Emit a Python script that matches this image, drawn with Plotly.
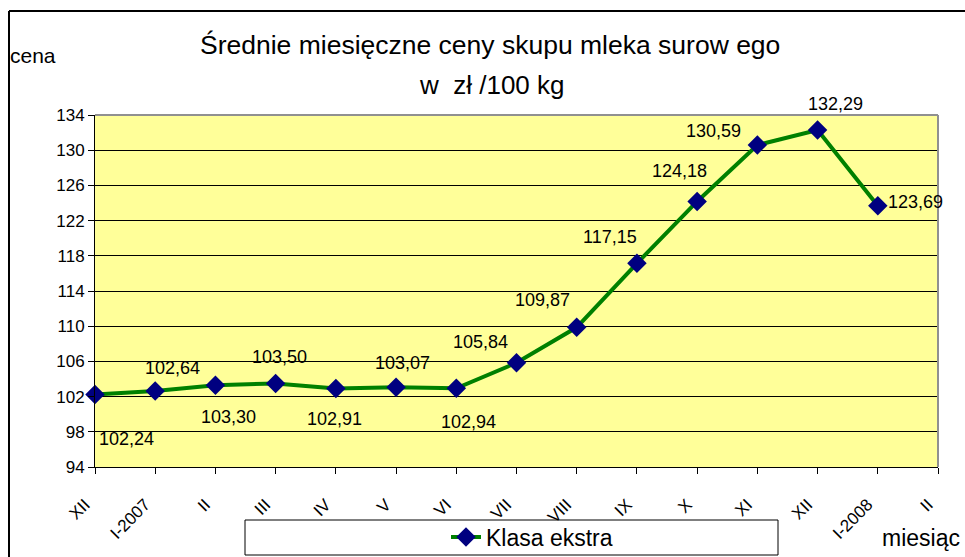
import plotly.graph_objects as go

months = ["XII", "I-2007", "II", "III", "IV", "V", "VI", "VII", "VIII", "IX", "X", "XI", "XII", "I-2008", "II"]
prices = [102.24, 102.64, 103.30, 103.50, 102.91, 103.07, 102.94, 105.84, 109.87, 117.15, 124.18, 130.59, 132.29, 123.69]
label_text = ["102,24", "102,64", "103,30", "103,50", "102,91", "103,07", "102,94", "105,84", "109,87", "117,15", "124,18", "130,59", "132,29", "123,69"]
y_ticks = [94, 98, 102, 106, 110, 114, 118, 122, 126, 130, 134]

# pixel offsets of data labels (style only)
lab_dx = [31, 17, 13, 4, -1, 6, 12, -36, -34, -27, -18, -44, 18, 38]
lab_dy = [-45, 23, -32, 26, -30, 24, -34, 21, 27, 26, 30, 14, 26, 4]

FONT = "Liberation Sans, Arial, sans-serif"

xs = list(range(len(prices)))

L, R, T, B = 95, 938, 115, 467
W, H = R - L, B - T
def px(xp):
    return (xp - L) / W
def py(yp):
    return (B - yp) / H

fig = go.Figure()
fig.add_trace(go.Scatter(
    x=xs, y=prices, mode="lines+markers", name="Klasa ekstra",
    line=dict(color="#008000", width=4),
    marker=dict(symbol="diamond", size=15, color="#000080"),
    cliponaxis=False,
))

annotations = []
for i, (v, t) in enumerate(zip(prices, label_text)):
    annotations.append(dict(x=i, y=v, xref="x", yref="y", text=t, showarrow=False,
                            xshift=lab_dx[i], yshift=lab_dy[i],
                            font=dict(family=FONT, size=18, color="black")))

def txt(x, y, s, size):
    return dict(x=px(x), y=py(y), xref="paper", yref="paper", text=s, showarrow=False,
                xanchor="center", yanchor="middle", font=dict(family=FONT, size=size, color="black"))

annotations += [
    txt(490, 45, "Średnie miesięczne ceny skupu mleka surow ego", 26.5),
    txt(492, 85, "w  zł /100 kg", 26),
    txt(33, 55, "cena", 21),
    txt(921, 538, "miesiąc", 23),
]

shapes = [
    dict(type="line", xref="paper", yref="paper", x0=px(9), x1=px(9), y0=py(11), y1=py(560), line=dict(color="black", width=2)),
    dict(type="line", xref="paper", yref="paper", x0=px(9), x1=px(970), y0=py(11), y1=py(11), line=dict(color="black", width=2)),
    dict(type="rect", xref="paper", yref="paper", x0=px(245), x1=px(778), y0=py(520), y1=py(555), line=dict(color="black", width=1)),
    dict(type="line", xref="paper", yref="paper", x0=0, x1=1, y0=1, y1=1, line=dict(color="#909090", width=2)),
    dict(type="line", xref="paper", yref="paper", x0=1, x1=1, y0=0, y1=1, line=dict(color="#909090", width=2)),
]

fig.update_layout(
    width=965, height=557,
    margin=dict(l=L, r=965 - R, t=T, b=557 - B, pad=0, autoexpand=False),
    paper_bgcolor="white", plot_bgcolor="#FFFF99",
    font=dict(family=FONT, size=16, color="black"),
    annotations=annotations, shapes=shapes,
    showlegend=True,
    legend=dict(x=px(446), y=py(537), xanchor="left", yanchor="middle", orientation="h",
                font=dict(family=FONT, size=23), bgcolor="rgba(0,0,0,0)", borderwidth=0),
    xaxis=dict(range=[0, 14], tickvals=list(range(len(months))), ticktext=months, tickangle=-45,
               ticks="outside", ticklen=6, tickcolor="black", showgrid=False, zeroline=False,
               showline=True, linecolor="black", linewidth=1, tickfont=dict(family=FONT, size=17),
               ticklabelstandoff=14, ticklabelshift=-10, automargin=False),
    yaxis=dict(range=[94, 134], tickvals=y_ticks, ticks="outside", ticklen=6, tickcolor="black",
               showgrid=True, gridcolor="black", gridwidth=1, zeroline=False,
               showline=True, linecolor="black", linewidth=1, tickfont=dict(family=FONT, size=17),
               automargin=False),
)

fig.write_html("out.html", config={"displayModeBar": False},
               post_script="document.body.style.margin='0';document.body.style.overflow='hidden';")
